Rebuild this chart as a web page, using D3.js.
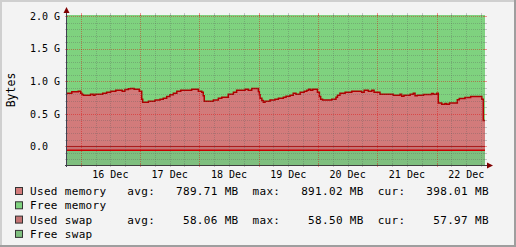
<!DOCTYPE html>
<html>
<head>
<meta charset="utf-8">
<script src="https://cdn.jsdelivr.net/npm/d3@7"></script>
<style>
  body { margin: 0; background: #f3f3f3; }
  svg { display: block; }
</style>
</head>
<body>
<div id="chart"></div>
<script>
// hours after 16 Dec 00:00 where the used memory value changes (step graph)
const usedHours = [-5.54, -3.6, -1.0, 0, 0.5, 1.1, 4.0, 5.1, 5.8, 8.9,
  10.5, 12.1, 14.2, 16.8, 17.9, 19.3, 20.2, 21.6, 23.7, 24.7,
  25.1, 27.4, 30.1, 32.1, 33.4, 34.8, 36.1, 37.5, 38.9, 40.5,
  44.9, 47.6, 49.0, 49.6, 50.0, 53.7, 55.7, 57.1, 59.7, 61.8,
  63.1, 66.5, 67.8, 69.2, 71.9, 72.3, 72.6, 73.3, 73.9, 74.6,
  76.6, 78.6, 80.0, 82.0, 83.1, 84.7, 86.0, 87.1, 88.8, 90.4,
  91.5, 92.3, 93.1, 93.9, 95.8, 96.6, 97.1, 97.9, 101.6, 103.3,
  103.9, 104.9, 107.0, 109.7, 113.7, 114.7, 116.4, 117.8, 118.7, 121.1,
  126.5, 129.2, 129.9, 130.8, 133.3, 134.6, 135.3, 136.2, 138.7, 142.0,
  142.7, 144.1, 144.7, 146.1, 147.4, 148.1, 149.2, 152.4, 153.2, 155.5,
  157.8, 162.3, 162.9];
const usedMB = [819, 839, 850, 819, 798, 788, 804, 788, 804, 819,
  834, 850, 865, 850, 874, 885, 891, 880, 850, 727,
  681, 696, 712, 727, 742, 767, 793, 819, 850, 865,
  880, 850, 834, 778, 696, 712, 742, 758, 804, 834,
  865, 880, 865, 891, 844, 793, 742, 706, 681, 696,
  712, 727, 742, 758, 773, 788, 819, 804, 834, 850,
  865, 880, 865, 880, 834, 767, 727, 712, 727, 758,
  788, 819, 834, 850, 834, 865, 850, 865, 834, 804,
  788, 804, 773, 788, 804, 819, 778, 788, 798, 813,
  804, 819, 666, 650, 660, 650, 666, 716, 736, 752,
  767, 727, 398];

const swapHours = [-5.54, 40, 100, 150];
const usedSwapMB = [58.5, 58.1, 58.0, 57.97];

const totalMemoryMB = 2048;
const totalSwapMB = 2048;
const endHour = 163.6;

const yTicks = [0, 500, 1000, 1500, 2000];
const yTickLabels = ["0.0", "0.5 G", "1.0 G", "1.5 G", "2.0 G"];

const legendNames = ["Used memory", "Free memory", "Used swap", "Free swap"];
const legendAvg = ["789.71", null, "58.06", null];
const legendMax = ["891.02", null, "58.50", null];
const legendCur = ["398.01", null, "57.97", null];

const colors = {
  usedMem: "#d27b7b", freeMem: "#7fd27f",
  usedSwap: "#c47474", freeSwap: "#7fbf7f",
  memLine: "#b00000", swapLine: "#cc0000"
};

const W = 516, H = 247;
const plot = {left: 67, right: 485, top: 15, bottom: 165};
const t0 = Date.UTC(2023, 11, 16);
const hr = h => new Date(t0 + h * 3600e3);

const svg = d3.select("#chart").append("svg")
  .attr("width", W).attr("height", H)
  .style("font-family", "'DejaVu Sans Mono', monospace");

// background and 3d border
svg.append("rect").attr("width", W).attr("height", H).attr("fill", "#f3f3f3");
svg.append("path").attr("d", `M0,0H${W}V2H2V${H}H0Z`).attr("fill", "#cfcfcf");
svg.append("path").attr("d", `M${W},0V${H}H0V${H-2}H${W-2}V0Z`).attr("fill", "#9e9e9e");

const x = d3.scaleUtc().domain([hr(usedHours[0]), hr(endHour)]).range([plot.left, plot.right]);
const y = d3.scaleLinear().domain([-285, 2020]).range([plot.bottom, plot.top]);

const mem = usedHours.map((h, i) => ({t: hr(h), v: usedMB[i]}));
mem.push({t: hr(endHour), v: usedMB[usedMB.length - 1]});
const swap = swapHours.map((h, i) => ({t: hr(h), v: usedSwapMB[i]}));
swap.push({t: hr(endHour), v: usedSwapMB[usedSwapMB.length - 1]});

svg.append("clipPath").attr("id", "clip").append("rect")
  .attr("x", plot.left).attr("y", plot.top)
  .attr("width", plot.right - plot.left).attr("height", plot.bottom - plot.top);

const g = svg.append("g").attr("clip-path", "url(#clip)");
const step = d3.curveStepAfter;

g.append("path").datum(mem).attr("fill", colors.freeMem)
  .attr("d", d3.area().curve(step).x(d => x(d.t)).y0(d => y(d.v)).y1(y(totalMemoryMB)));
g.append("path").datum(mem).attr("fill", colors.usedMem)
  .attr("d", d3.area().curve(step).x(d => x(d.t)).y0(y(0)).y1(d => y(d.v)));
g.append("path").datum(swap).attr("fill", colors.freeSwap)
  .attr("d", d3.area().curve(step).x(d => x(d.t)).y0(d => y(-d.v)).y1(d => y(-d.v - totalSwapMB)));
g.append("path").datum(swap).attr("fill", colors.usedSwap)
  .attr("d", d3.area().curve(step).x(d => x(d.t)).y0(y(0)).y1(d => y(-d.v)));

// grid
const minorY = d3.range(-200, 2001, 100).filter(v => v % 500 !== 0);
const majorY = d3.range(0, 2001, 500);
const minorX = d3.utcHour.every(6).range(x.domain()[0], x.domain()[1]).filter(d => d.getUTCHours() !== 0);
const majorX = d3.utcDay.range(x.domain()[0], x.domain()[1]);

function hLines(vals, color) {
  const gg = svg.append("g");
  vals.forEach(v => {
    const yy = Math.round(y(v)) + 0.5;
    gg.append("line").attr("x1", plot.left).attr("x2", plot.right).attr("y1", yy).attr("y2", yy)
      .attr("stroke", color).attr("stroke-dasharray", "1,1");
    gg.append("line").attr("x1", plot.left - 2).attr("x2", plot.left + 1).attr("y1", yy).attr("y2", yy).attr("stroke", color);
    gg.append("line").attr("x1", plot.right - 1).attr("x2", plot.right + 2).attr("y1", yy).attr("y2", yy).attr("stroke", color);
  });
}
function vLines(vals, color) {
  const gg = svg.append("g");
  vals.forEach(v => {
    const xx = Math.round(x(v)) + 0.5;
    gg.append("line").attr("y1", plot.top).attr("y2", plot.bottom).attr("x1", xx).attr("x2", xx)
      .attr("stroke", color).attr("stroke-dasharray", "1,1");
    gg.append("line").attr("y1", plot.bottom - 1).attr("y2", plot.bottom + 2).attr("x1", xx).attr("x2", xx).attr("stroke", color);
    gg.append("line").attr("y1", plot.top - 2).attr("y2", plot.top + 1).attr("x1", xx).attr("x2", xx).attr("stroke", color);
  });
}
hLines(minorY, "rgba(90,90,90,0.3)");
vLines(minorX, "rgba(90,90,90,0.3)");
hLines(majorY, "rgba(225,0,0,0.4)");
vLines(majorX, "rgba(225,0,0,0.4)");

// lines
g.append("path").datum(mem).attr("fill", "none").attr("stroke", colors.memLine).attr("stroke-width", 1.5)
  .attr("d", d3.line().curve(step).x(d => x(d.t)).y(d => y(d.v)));
g.append("line").attr("x1", plot.left).attr("x2", plot.right).attr("y1", y(0)).attr("y2", y(0))
  .attr("stroke", "#9a2020").attr("stroke-width", 1);
g.append("path").datum(swap).attr("fill", "none").attr("stroke", colors.swapLine).attr("stroke-width", 1.5)
  .attr("d", d3.line().curve(step).x(d => x(d.t)).y(d => y(-d.v)));

// axes
svg.append("line").attr("x1", plot.left - 2).attr("x2", plot.right + 3)
  .attr("y1", plot.bottom + 0.5).attr("y2", plot.bottom + 0.5).attr("stroke", "#404040");
svg.append("line").attr("x1", plot.left - 0.5).attr("x2", plot.left - 0.5)
  .attr("y1", plot.bottom + 2).attr("y2", plot.top - 2).attr("stroke", "#404050");
svg.append("path").attr("fill", "#800000")
  .attr("d", `M${plot.right + 2},${plot.bottom - 2.5}L${plot.right + 8},${plot.bottom + 0.5}L${plot.right + 2},${plot.bottom + 3.5}Z`);
svg.append("path").attr("fill", "#800000")
  .attr("d", `M${plot.left - 3.5},${plot.top - 2}L${plot.left - 0.5},${plot.top - 8}L${plot.left + 2.5},${plot.top - 2}Z`);

// tick labels
svg.append("g").selectAll("text").data(yTicks).join("text")
  .attr("x", 30).attr("y", d => y(d) + 3.6)
  .attr("font-size", "10px").attr("fill", "#000")
  .attr("xml:space", "preserve")
  .text((d, i) => yTickLabels[i]);

const noons = majorX.map(d => d3.utcHour.offset(d, 12)).filter(d => d < x.domain()[1]);
svg.append("g").selectAll("text").data(noons).join("text")
  .attr("x", d => x(d)).attr("y", 178).attr("text-anchor", "middle")
  .attr("font-size", "10px").attr("fill", "#000")
  .text(d3.utcFormat("%d %b"));

svg.append("text").attr("transform", "translate(15,90) rotate(-90)")
  .attr("text-anchor", "middle").attr("font-size", "11.5px").attr("fill", "#000")
  .text("Bytes");

// legend
const swatch = [colors.usedMem, colors.freeMem, colors.usedSwap, colors.freeSwap];
const leg = svg.append("g");
legendNames.forEach((name, i) => {
  const by = 195 + i * 14.3;
  leg.append("rect").attr("x", 15.5).attr("y", by - 7.5).attr("width", 7).attr("height", 7)
    .attr("fill", swatch[i]).attr("stroke", "#333");
  let s = name;
  if (legendAvg[i]) {
    s = name.padEnd(14) + "avg:" + legendAvg[i].padStart(9) + " MB  max:" +
      legendMax[i].padStart(9) + " MB  cur:" + legendCur[i].padStart(9) + " MB";
  }
  leg.append("text").attr("x", 30).attr("y", by)
    .attr("font-size", "11px").attr("letter-spacing", "0.33px")
    .attr("xml:space", "preserve").attr("fill", "#000")
    .text(s);
});
</script>
</body>
</html>
